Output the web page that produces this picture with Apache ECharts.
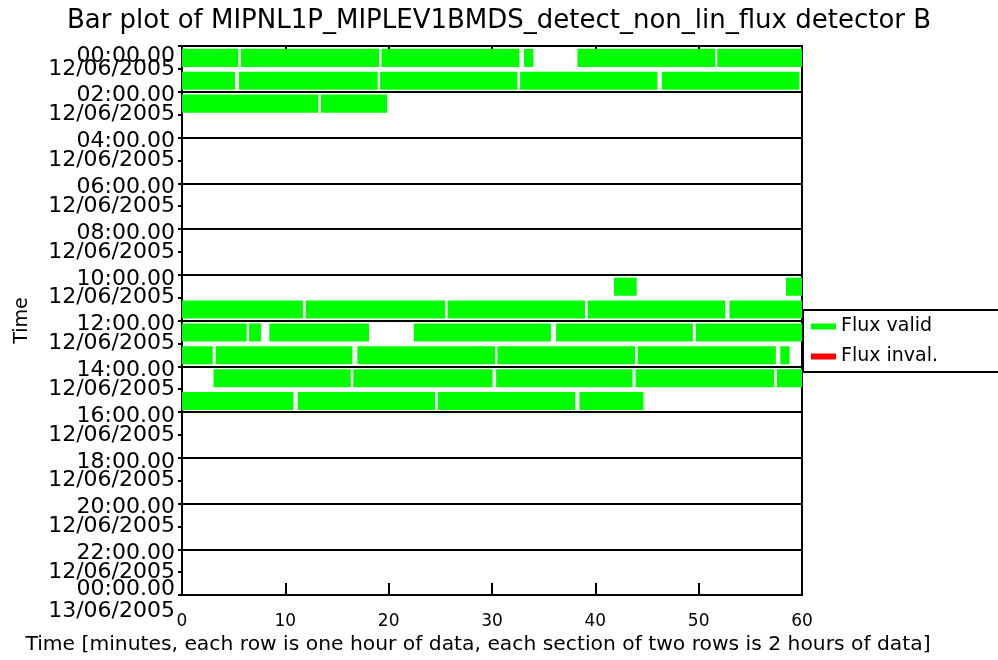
<!DOCTYPE html>
<html>
<head>
<meta charset="utf-8">
<title>Bar plot</title>
<script src="https://cdn.jsdelivr.net/npm/echarts@6/dist/echarts.min.js"></script>
<style>
    html, body { margin: 0; padding: 0; background: #fff; }
    #chart { width: 998px; height: 660px; }
</style>
</head>
<body>
<div id="chart"></div>
<script>
    // segments of valid flux: hour row (0 = 00:00) and start / end in minutes
    var segRow   = [0, 0, 0, 0, 0, 0,
                    1, 1, 1, 1, 1,
                    2, 2,
                    10, 10,
                    11, 11, 11, 11, 11,
                    12, 12, 12, 12, 12, 12,
                    13, 13, 13, 13, 13, 13,
                    14, 14, 14, 14, 14,
                    15, 15, 15, 15];
    var segStart = [0, 5.7, 19.3, 33.1, 38.27, 51.8,
                    0, 5.52, 19.17, 32.72, 46.43,
                    0, 13.45,
                    41.8, 58.45,
                    0, 11.97, 25.7, 39.27, 52.98,
                    0, 6.49, 8.45, 22.43, 36.2, 49.73,
                    0, 3.26, 16.97, 30.52, 44.1, 57.9,
                    3.05, 16.58, 30.4, 43.9, 57.57,
                    0, 11.2, 24.75, 38.46];
    var segEnd   = [5.45, 19.07, 32.65, 34.0, 51.6, 60,
                    5.13, 18.94, 32.46, 46.0, 59.76,
                    13.2, 19.85,
                    44.0, 60,
                    11.7, 25.46, 39.0, 52.57, 60,
                    6.26, 7.65, 18.1, 35.7, 49.44, 60,
                    2.97, 16.49, 30.3, 43.85, 57.47, 58.8,
                    16.33, 30.05, 43.6, 57.3, 60,
                    10.78, 24.5, 38.05, 44.66];
    // no invalid flux in this period
    var invalidRow = [];
    var invalidStart = [];
    var invalidEnd = [];

    var hourLabels = ['00:00.00', '02:00.00', '04:00.00', '06:00.00', '08:00.00', '10:00.00',
                      '12:00.00', '14:00.00', '16:00.00', '18:00.00', '20:00.00', '22:00.00', '00:00.00'];
    var dateLabels = ['12/06/2005', '12/06/2005', '12/06/2005', '12/06/2005', '12/06/2005', '12/06/2005',
                      '12/06/2005', '12/06/2005', '12/06/2005', '12/06/2005', '12/06/2005', '12/06/2005', '13/06/2005'];
    var minuteTicks = [0, 10, 20, 30, 40, 50, 60];

    var font = 'DejaVu Sans';
    var labelText = { fontFamily: font, fontSize: 22, color: '#000', lineHeight: 14, align: 'right' };

    // one label slot per hour boundary: time on even hours, date on odd ones
    var hourSlots = [];
    for (var k = 0; k <= 24; k++) {
        var j = Math.floor(k / 2);
        hourSlots.push(k % 2 === 0 ? hourLabels[j] : dateLabels[j]);
    }

    function toData(rows, starts, ends) {
        return rows.map(function (r, i) {
            return [starts[i], ends[i], r];
        });
    }

    function renderSeg(params, api) {
        var row = api.value(2);
        var p0 = api.coord([api.value(0), row + 0.52]);
        var p1 = api.coord([api.value(1), row + 0.52]);
        var h = api.size([0, 1])[1] * 0.79;
        return {
            type: 'rect',
            shape: { x: p0[0], y: p0[1] - h / 2, width: p1[0] - p0[0], height: h },
            style: { fill: api.visual('color') }
        };
    }

    var chart = echarts.init(document.getElementById('chart'));
    var option = {
        backgroundColor: '#fff',
        animation: false,
        title: {
            text: 'Bar plot of MIPNL1P_MIPLEV1BMDS_detect_non_lin_flux detector B',
            left: 'center',
            top: 3,
            textStyle: { fontFamily: font, fontSize: 26, fontWeight: 'normal', color: '#000' }
        },
        legend: {
            orient: 'vertical',
            left: 803,
            top: 310,
            padding: [7, 200, 6, 8],
            borderColor: '#000',
            borderWidth: 2,
            itemWidth: 25,
            itemHeight: 6,
            itemGap: 11,
            icon: 'rect',
            textStyle: { fontFamily: font, fontSize: 19, color: '#000' },
            data: ['Flux valid', 'Flux inval.']
        },
        grid: {
            left: 182,
            right: 196,
            top: 46,
            bottom: 64,
            show: true,
            borderColor: '#000',
            borderWidth: 2
        },
        xAxis: [{
            type: 'value',
            min: minuteTicks[0],
            max: minuteTicks[minuteTicks.length - 1],
            interval: 10,
            position: 'bottom',
            name: 'Time [minutes, each row is one hour of data, each section of two rows is 2 hours of data]',
            nameLocation: 'middle',
            nameGap: 30,
            nameTextStyle: { fontFamily: font, fontSize: 20.3, color: '#000', padding: [0, 28, 0, 0] },
            axisLine: { onZero: false, lineStyle: { color: '#000', width: 2 } },
            axisTick: { inside: true, length: 12, lineStyle: { color: '#000', width: 2 } },
            axisLabel: { fontFamily: font, fontSize: 17, color: '#000', margin: 18 },
            splitLine: { show: false }
        }, {
            type: 'value',
            min: 0,
            max: 60,
            interval: 10,
            position: 'top',
            axisLine: { onZero: false, lineStyle: { color: '#000', width: 2 } },
            axisTick: { inside: true, length: 12, lineStyle: { color: '#000', width: 2 } },
            axisLabel: { show: false },
            splitLine: { show: false }
        }],
        yAxis: [{
            // frame, 2-hour section lines and hour ticks
            type: 'value',
            inverse: true,
            min: 0,
            max: 24,
            interval: 2,
            position: 'left',
            name: 'Time',
            nameLocation: 'middle',
            nameGap: 150,
            nameTextStyle: { fontFamily: font, fontSize: 19, color: '#000' },
            axisLine: { onZero: false, lineStyle: { color: '#000', width: 2 } },
            axisTick: { length: 4, lineStyle: { color: '#000', width: 2 } },
            minorTick: { show: true, splitNumber: 2, length: 4, lineStyle: { color: '#000', width: 2 } },
            splitLine: { show: true, lineStyle: { color: '#000', width: 2 } },
            axisLabel: { show: false }
        }, {
            // time / date labels, one per hour boundary
            type: 'category',
            inverse: true,
            boundaryGap: false,
            position: 'left',
            offset: 0,
            data: hourSlots,
            axisLine: { show: false, onZero: false },
            axisTick: { show: false },
            splitLine: { show: false },
            axisLabel: {
                interval: 0,
                margin: 7,
                formatter: function (v, idx) {
                    if (idx === 0) return '{top| }\n{t|' + v + '}';
                    if (idx === 24) return '{a|' + v + '}\n{b|' + dateLabels[12] + '}';
                    if (idx % 2 === 0) return '{sp| }\n{t|' + v + '}';
                    return '{t|' + v + '}';
                },
                rich: {
                    top: { lineHeight: 21, fontSize: 2 },
                    sp: { lineHeight: 8, fontSize: 2 },
                    t: labelText,
                    a: { fontFamily: font, fontSize: 22, color: '#000', lineHeight: 33, align: 'right' },
                    b: { fontFamily: font, fontSize: 22, color: '#000', lineHeight: 11, align: 'right' }
                }
            }
        }],
        series: [{
            name: 'Flux valid',
            type: 'custom',
            color: '#00ff00',
            itemStyle: { color: '#00ff00' },
            renderItem: renderSeg,
            encode: { x: [0, 1], y: 2 },
            data: toData(segRow, segStart, segEnd),
            z: 3
        }, {
            name: 'Flux inval.',
            type: 'custom',
            color: '#ff0000',
            itemStyle: { color: '#ff0000' },
            renderItem: renderSeg,
            encode: { x: [0, 1], y: 2 },
            data: toData(invalidRow, invalidStart, invalidEnd),
            z: 3
        }]
    };

    option && chart.setOption(option);
</script>
</body>
</html>
